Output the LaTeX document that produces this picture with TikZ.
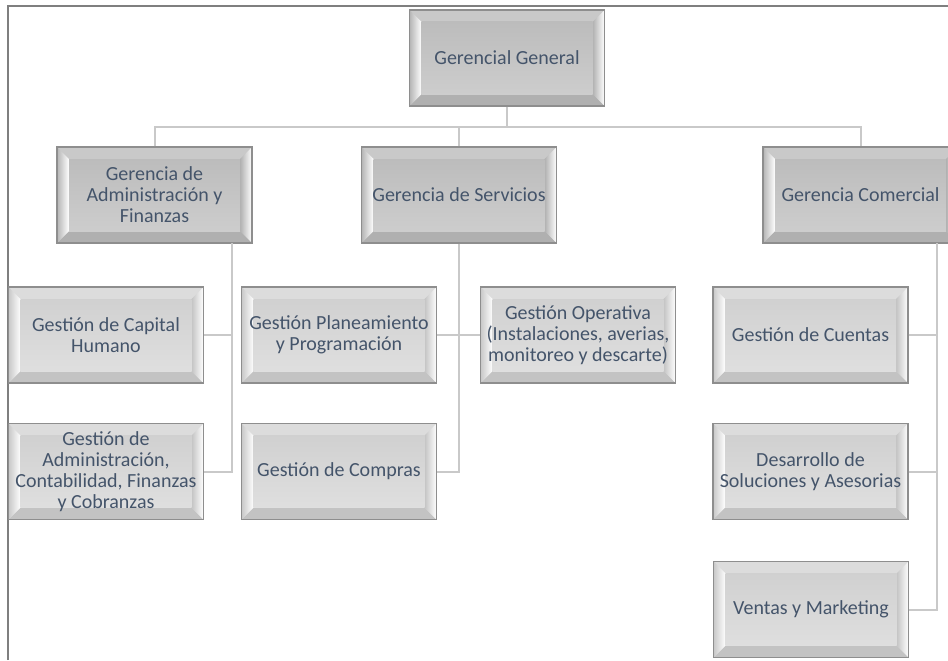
\documentclass[tikz,border=0pt]{standalone}
\usepackage{fontspec}
\setmainfont{Carlito}
\usetikzlibrary{calc}
\definecolor{txt}{HTML}{44546A}
\definecolor{frame}{HTML}{7F7F7F}
\definecolor{conn}{HTML}{C9C9C9}
\definecolor{bord}{HTML}{8E8E8E}
\definecolor{faceA}{HTML}{C4C4C4}
\definecolor{faceB}{HTML}{D9D9D9}
\tikzset{
  bevel/.style={rectangle, inner sep=0pt, minimum width=146.25pt, minimum height=72pt,
    draw=bord, line width=0.8pt, fill=#1, text=txt, align=center,
    font=\fontsize{15}{15.8}\selectfont,
    path picture={
      \path (path picture bounding box.north west) coordinate (A)
            (path picture bounding box.north east) coordinate (B)
            (path picture bounding box.south east) coordinate (C)
            (path picture bounding box.south west) coordinate (D);
      \path ($(A)+(9pt,-9pt)$) coordinate (a) ($(B)+(-9pt,-9pt)$) coordinate (b)
            ($(C)+(-9pt,9pt)$) coordinate (c) ($(D)+(9pt,9pt)$) coordinate (d);
      \fill[#1!92!white] (A)--(B)--(b)--(a)--cycle;
      \fill[#1!90!black] (D)--(C)--(c)--(d)--cycle;
      \shade[left color=#1!92!black, right color=white] (A)--(a)--(d)--(D)--cycle;
      \shade[left color=#1!90!black, right color=white] (B)--(b)--(c)--(C)--cycle;
      \shade[top color=#1!96!black, bottom color=#1!85!white] (a) rectangle (c);
    }},
  lvA/.style={bevel=faceA},
  lvB/.style={bevel=faceB},
  link/.style={draw=conn, line width=1.5pt}
}
\begin{document}
\begin{tikzpicture}[x=0.75pt,y=-0.75pt]
\useasboundingbox (0,0) rectangle (948,660);
\clip (0,0) rectangle (948,660);
% frame
\draw[frame, line width=1.2pt] (8,660) -- (8,6) -- (960,6);
% nodes
\node[lvA] (gg) at (507,58) {Gerencial General};
\node[lvA] (adm) at (154.5,195) {Gerencia de\\Administración y\\Finanzas};
\node[lvA] (ser) at (459,195) {Gerencia de Servicios};
\node[lvA] (com) at (860.5,195) {Gerencia Comercial};
\node[lvB] (cap) at (106,335) {Gestión de Capital\\Humano};
\node[lvB] (gad) at (106,471.5) {Gestión de\\Administración,\\Contabilidad, Finanzas\\y Cobranzas};
\node[lvB] (pla) at (339,335) {Gestión Planeamiento\\y Programación};
\node[lvB] (cmp) at (339,471.5) {Gestión de Compras};
\node[lvB] (ope) at (578,335) {Gestión Operativa\\(Instalaciones, averias,\\monitoreo y descarte)};
\node[lvB] (cue) at (810.5,335) {Gestión de Cuentas};
\node[lvB] (des) at (810.5,471.5) {Desarrollo de\\Soluciones y Asesorias};
\node[lvB] (ven) at (811,609.5) {Ventas y Marketing};
% connectors
\coordinate (bus) at (507,127);
\draw[link] (gg.south) -- (bus);
\draw[link] (adm.north) |- (bus) -| (com.north);
\draw[link] (bus) -| (ser.north);
% left group
\coordinate (la) at (232,243);
\coordinate (lb) at (232,471.5);
\draw[link] (la) -- (lb) -- (gad.east);
\draw[link] (cap.east) -| (la);
% middle group
\coordinate (mb) at (459,471.5);
\draw[link] (ser.south) -- (mb) -- (cmp.east);
\draw[link] (pla.east) -- (ope.west);
% right group
\coordinate (ra) at (937,243);
\coordinate (rb) at (937,609.5);
\draw[link] (ra) -- (rb) -- (ven.east);
\draw[link] (cue.east) -| (ra);
\draw[link] (des.east) -| (ra);
\end{tikzpicture}
\end{document}
